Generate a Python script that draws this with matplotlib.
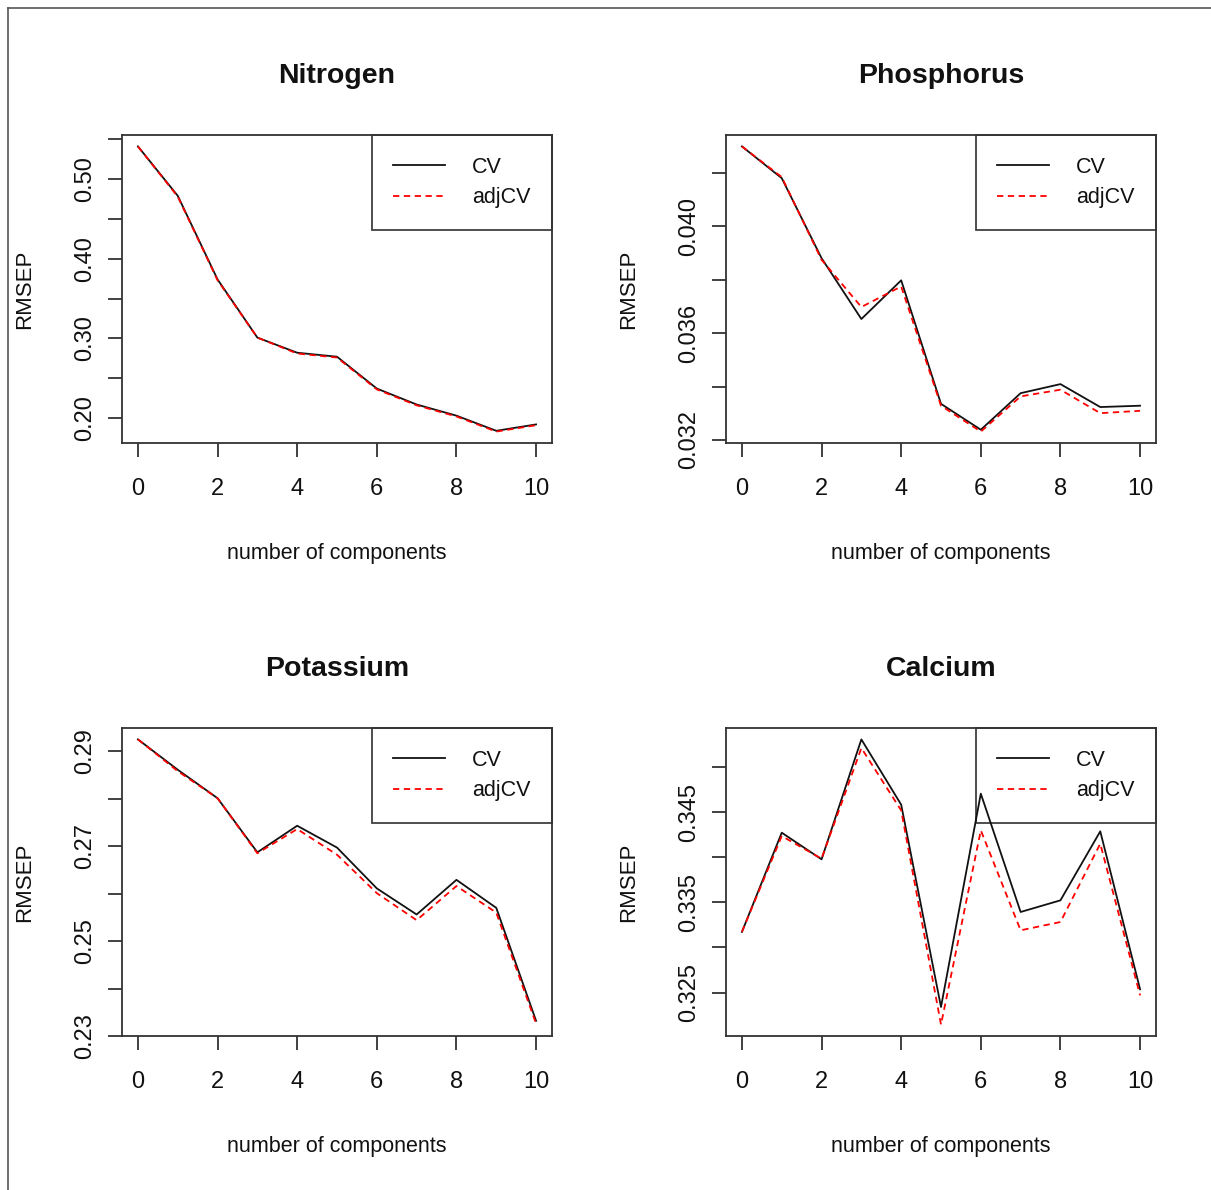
import matplotlib
matplotlib.use('Agg')
import matplotlib.pyplot as plt
from matplotlib.lines import Line2D

# number of PLS components (x axis)
components = list(range(11))

# RMSEP values
nitrogen_cv = [0.541, 0.479, 0.374, 0.301, 0.282, 0.277, 0.237, 0.217, 0.203, 0.184, 0.192]
nitrogen_adjcv = [0.541, 0.478, 0.373, 0.301, 0.281, 0.276, 0.236, 0.216, 0.202, 0.183, 0.191]

phosphorus_cv = [0.0430, 0.04181, 0.03881, 0.03653, 0.03798, 0.03335, 0.03238, 0.03375, 0.03409, 0.03323, 0.03328]
phosphorus_adjcv = [0.0430, 0.04185, 0.03875, 0.03698, 0.03775, 0.03328, 0.03231, 0.03363, 0.03388, 0.03300, 0.03309]

potassium_cv = [0.2925, 0.2861, 0.2801, 0.2687, 0.2743, 0.2697, 0.2611, 0.2556, 0.2629, 0.2570, 0.2332]
potassium_adjcv = [0.2925, 0.2858, 0.2801, 0.2685, 0.2736, 0.2682, 0.2601, 0.2544, 0.2616, 0.2560, 0.2326]

calcium_cv = [0.33172, 0.34271, 0.33976, 0.35304, 0.34581, 0.32341, 0.34703, 0.33393, 0.33522, 0.34286, 0.32537]
calcium_adjcv = [0.33172, 0.34234, 0.33983, 0.35208, 0.34518, 0.32146, 0.34297, 0.33190, 0.33282, 0.34149, 0.32470]

titles = ['Nitrogen', 'Phosphorus', 'Potassium', 'Calcium']
x_ticks = [0, 2, 4, 6, 8, 10]
# y ticks and which of them carry a label (R drops overlapping labels)
y_ticks = [
    [0.20, 0.25, 0.30, 0.35, 0.40, 0.45, 0.50, 0.55],
    [0.032, 0.034, 0.036, 0.038, 0.040, 0.042],
    [0.23, 0.24, 0.25, 0.26, 0.27, 0.28, 0.29],
    [0.325, 0.330, 0.335, 0.340, 0.345, 0.350],
]
y_labels = [
    ['0.20', '', '0.30', '', '0.40', '', '0.50', ''],
    ['0.032', '', '0.036', '', '0.040', ''],
    ['0.23', '', '0.25', '', '0.27', '', '0.29'],
    ['0.325', '', '0.335', '', '0.345', ''],
]
cv_series = [nitrogen_cv, phosphorus_cv, potassium_cv, calcium_cv]
adjcv_series = [nitrogen_adjcv, phosphorus_adjcv, potassium_adjcv, calcium_adjcv]

plt.rcParams['font.family'] = ['Liberation Sans', 'DejaVu Sans']

W, H = 1211, 1190
fig = plt.figure(figsize=(W / 100, H / 100), dpi=100)

# frame line on left and top of the image
fig.add_artist(Line2D([8 / W, 8 / W], [0, 1 - 8 / H], color='#555555', lw=1.2))
fig.add_artist(Line2D([8 / W, 1], [1 - 8 / H, 1 - 8 / H], color='#555555', lw=1.2))

lefts = [122, 726]
tops = [135, 728]
aw, ah = 430, 308

for i in range(4):
    r, c = divmod(i, 2)
    ax = fig.add_axes([lefts[c] / W, 1 - (tops[r] + ah) / H, aw / W, ah / H])
    cv = cv_series[i]
    adj = adjcv_series[i]
    ax.plot(components, cv, color='#111111', lw=1.3, label='CV', zorder=3)
    ax.plot(components, adj, color='red', lw=1.3, dashes=(3.5, 2.5), label='adjCV', zorder=3)

    lo = min(cv + adj)
    hi = max(cv + adj)
    ext = 0.04 * (hi - lo)
    ax.set_ylim(lo - ext, hi + ext)
    ax.set_xlim(-0.4, 10.4)

    ax.set_xticks(x_ticks)
    ax.set_yticks(y_ticks[i])
    ax.set_yticklabels(y_labels[i], rotation=90, va='center')
    ax.tick_params(axis='both', length=10, width=1.3, color='#333333',
                   labelsize=17, labelcolor='#111111')
    ax.tick_params(axis='x', pad=15)
    ax.tick_params(axis='y', pad=8.5)
    for sp in ax.spines.values():
        sp.set_linewidth(1.3)
        sp.set_color('#333333')

    ax.set_xlabel('number of components', fontsize=15.5, color='#111111')
    ax.xaxis.set_label_coords(0.5, -0.36)
    ax.xaxis.label.set_va('center')
    ax.set_ylabel('RMSEP', fontsize=16, color='#111111')
    ax.yaxis.set_label_coords(-0.226, 0.5)
    ax.yaxis.label.set_va('center')

    ax.text(0.5, 1.19, titles[i], transform=ax.transAxes, ha='center',
            va='center', fontsize=20.5, fontweight='bold', color='#111111')

    # R-style legend: plain box, no fill, so lines stay visible behind it
    leg = ax.legend(loc='upper right', bbox_to_anchor=(1, 1), borderaxespad=0,
                    fontsize=15.5, handlelength=2.4, handletextpad=1.25,
                    labelspacing=0.45, borderpad=1.0, fancybox=False,
                    edgecolor='#111111', facecolor='none', framealpha=None)
    leg.set_zorder(2)
    leg.get_frame().set_linewidth(1.3)
    for t in leg.get_texts():
        t.set_color('#111111')

fig.savefig('out.png', dpi=100)
